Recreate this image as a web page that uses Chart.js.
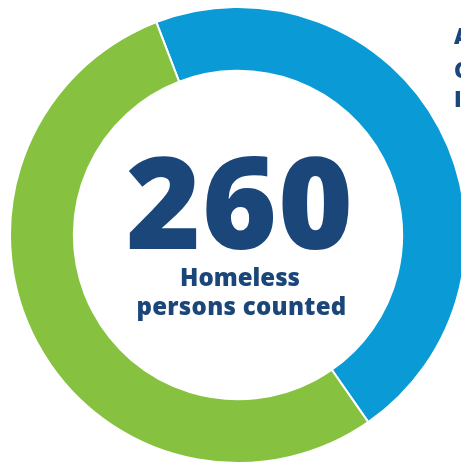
<!DOCTYPE html>
<html>
<head>
<meta charset="utf-8">
<script src="https://cdn.jsdelivr.net/npm/chart.js@4/dist/chart.umd.min.js"></script>
<style>
  html, body { margin: 0; padding: 0; width: 461px; height: 464px; overflow: hidden; background: #ffffff; position: relative; }
  #wrap { position: absolute; left: 9px; top: 6px; width: 458px; height: 458px; }
  .t { position: absolute; font-family: "Open Sans", sans-serif; font-weight: 800; color: #1b4679; white-space: nowrap; text-align: center; }
  #big { left: 40px; width: 400px; top: 136px; font-size: 128px; line-height: 128px; letter-spacing: 1px; }
  #l1 { left: 40px; width: 400px; top: 265px; font-size: 24px; line-height: 24px; }
  #l2 { left: 40px; width: 403px; top: 294px; font-size: 24px; line-height: 24px; letter-spacing: 0.3px; }
  .side { position: absolute; left: 454px; font-family: "Open Sans", sans-serif; font-weight: 800; color: #1b4679; font-size: 22px; line-height: 22px; white-space: nowrap; }
</style>
</head>
<body>
<div id="wrap"><canvas id="c"></canvas></div>
<div class="t" id="big"></div>
<div class="t" id="l1">Homeless</div>
<div class="t" id="l2">persons counted</div>
<div class="side" style="top:24px">A</div>
<div class="side" style="top:58px">C</div>
<div class="side" style="top:87px">I</div>
<script>
const categories = ["Sheltered", "Unsheltered"];
const counts = [120, 140];
const colors = ["#0a9ad6", "#86c240"];

document.getElementById("big").textContent = String(counts.reduce((a, b) => a + b, 0));

new Chart(document.getElementById("c"), {
  type: "doughnut",
  data: {
    labels: categories,
    datasets: [{
      data: counts,
      backgroundColor: colors,
      borderColor: "#ffffff",
      borderWidth: 2
    }]
  },
  options: {
    responsive: true,
    maintainAspectRatio: false,
    animation: false,
    rotation: -21,
    cutout: "72%",
    layout: { padding: 0 },
    plugins: { legend: { display: false }, tooltip: { enabled: false } }
  }
});
</script>
</body>
</html>
